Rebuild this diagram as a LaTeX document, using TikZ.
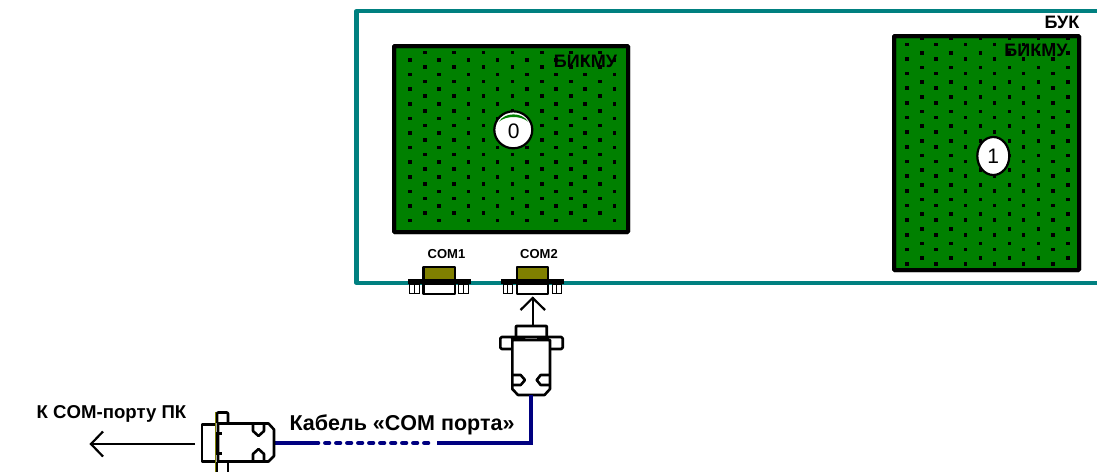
\documentclass[tikz,border=0pt]{standalone}
\usepackage{fontspec}
\setmainfont{Liberation Sans}
\usetikzlibrary{shapes.geometric}
\definecolor{frameteal}{HTML}{008080}
\definecolor{boardgreen}{HTML}{008000}
\definecolor{portolive}{HTML}{808000}
\definecolor{cablenavy}{HTML}{000080}
\tikzset{
  x=1pt,y=-1pt,
  frameline/.style={draw=frameteal,line width=4.2pt,line join=round},
  board/.style={draw=black,line width=4pt,fill=boardgreen,rounded corners=1pt},
  boardedge/.style={draw=black,line width=4pt,rounded corners=1pt},
  dotmark/.style={fill=black},
  idcell/.style={ellipse,draw=black,line width=2.2pt,fill=white,inner sep=0pt,font=\fontsize{20}{20}\selectfont},
  boardcap/.style={font=\bfseries\fontsize{18}{18}\selectfont,inner sep=0pt,text=black},
  portcap/.style={font=\bfseries\fontsize{13}{13}\selectfont,inner sep=0pt},
  bigcap/.style={font=\bfseries\fontsize{21.5}{21.5}\selectfont,inner sep=0pt},
  pc/.style={draw=black,line width=2.2pt,line join=round},
  pcthick/.style={draw=black,line width=2.6pt,line join=round},
  cable/.style={draw=cablenavy,line width=3.6pt,line join=miter},
  cabledash/.style={draw=cablenavy,line width=4.6pt,line cap=round,dash pattern=on 3.6pt off 7.4pt},
  flow/.style={draw=black,line width=2.2pt},
}
\newcommand{\comport}[1]{%
  \begin{scope}[xshift=#1]
    \draw[pc,fill=portolive] (516.7,280) -- (516.7,267) -- (548.3,267) -- (548.3,280) -- cycle;
    \draw[pc,fill=white] (516.7,284) -- (516.7,294) -- (548.3,294) -- (548.3,284) -- cycle;
    \draw[draw=black,line width=.8pt,fill=white] (503,284) rectangle (512.7,293);
    \draw[draw=black,line width=.8pt] (507.8,284) -- (507.8,293);
    \draw[draw=black,line width=.8pt,fill=white] (552,284) rectangle (561.7,293);
    \draw[draw=black,line width=.8pt] (556.8,284) -- (556.8,293);
    \fill[black] (501,279) rectangle (564,284.3);
  \end{scope}}
\begin{document}
\begin{tikzpicture}
\useasboundingbox (0,0) rectangle (1097,472);
\fill[white] (0,0) rectangle (1097,472);
% enclosure
\draw[frameline] (1097,11) -- (356.5,11) -- (356.5,283) -- (1097,283);
\node[boardcap,anchor=center] (buk) at (1062,22.5) {БУК};
% left board
\path[board] (394,46) rectangle (628,232);
\foreach \i in {0,...,7}{
  \foreach \j in {0,...,11}{
    \pgfmathsetmacro{\px}{410+29.2*\i}
    \pgfmathsetmacro{\py}{60+14.6*\j}
    \fill[dotmark] (\px-1.8,\py-1.8) rectangle (\px+1.8,\py+1.8);
    \pgfmathsetmacro{\qx}{425+29.2*\i}
    \pgfmathsetmacro{\qy}{52.3+14.6*\j}
    \ifdim\qx pt<620pt \fill[dotmark] (\qx-1.8,\qy-1.8) rectangle (\qx+1.8,\qy+1.8);\fi
  }
}
\path[boardedge] (394,46) rectangle (628,232);
\node[boardcap] (bikmuA) at (585.5,61.5) {БИКМУ};
\node[idcell,minimum width=38pt,minimum height=37pt] (cell0) at (513.3,129.8) {};
\fill[boardgreen] (499,121.5) .. controls (505,112) and (522,112) .. (528,121.5) .. controls (520,115.5) and (507,115.5) .. (499,121.5);
\node[inner sep=0pt,font=\fontsize{21}{21}\selectfont] (num0) at (513.8,131.5) {0};
% right board
\path[board] (894,36) rectangle (1079,270);
\foreach \i in {0,...,5}{
  \foreach \j in {0,...,15}{
    \pgfmathsetmacro{\px}{907+29.15*\i}
    \pgfmathsetmacro{\py}{44.3+14.65*\j}
    \fill[dotmark] (\px-1.8,\py-1.8) rectangle (\px+1.8,\py+1.8);
    \pgfmathsetmacro{\qx}{922+29.15*\i}
    \pgfmathsetmacro{\qy}{38.3+14.65*\j}
    \fill[dotmark] (\qx-1.8,\qy-1.8) rectangle (\qx+1.8,\qy+1.8);
  }
}
\path[boardedge] (894,36) rectangle (1079,270);
\node[boardcap] (bikmuB) at (1036,50) {БИКМУ};
\node[idcell,minimum width=32pt,minimum height=38pt] (cell1) at (993.3,156) {};
\node[inner sep=0pt,font=\fontsize{21}{21}\selectfont] (num1) at (993.3,156.5) {1};
% ports
\comport{-93.3pt}
\comport{0pt}
\node[portcap] (com1) at (446.5,254.5) {COM1};
\node[portcap] (com2) at (539,254.5) {COM2};
% vertical plug
\coordinate (arrowtop) at (532.7,297);
\coordinate (plugtop) at (532.7,326);
\draw[pcthick,fill=white,rounded corners=.5pt] (516,336) -- (516,326) -- (546.7,326) -- (546.7,336);
\draw[flow] (plugtop) -- (arrowtop);
\draw[flow,line join=miter] (520.5,310) -- (532.7,298) -- (545,310);
\draw[pcthick,fill=white,rounded corners=1.5pt] (512,337) -- (500.3,337) -- (500.3,349) -- (562.7,349) -- (562.7,337) -- (550,337) -- cycle;
\draw[pcthick,fill=white] (512.3,340) -- (512.3,389) -- (518,395) -- (544.5,395) -- (550,389) -- (550,340) -- cycle;
\draw[pcthick] (513,340) -- (512,338.5) -- (524,338.5) -- (524,340);
\draw[pcthick] (538.5,340) -- (538.5,338.5) -- (549,338.5);
\draw[pcthick] (512.3,375) -- (520.7,375) -- (525,380) -- (520.7,385) -- (512.3,385);
\draw[pcthick] (550,375) -- (540.7,375) -- (536.7,380) -- (540.7,385) -- (550,385);
% cable
\coordinate (cabV) at (531,395);
\coordinate (cabC) at (531,443);
\coordinate (cabR) at (437,443);
\coordinate (dashR) at (428,443);
\coordinate (dashL) at (318,443);
\coordinate (cabL) at (274,443);
\draw[cable] (cabV) -- (cabC) -- (cabR);
\draw[cable] (dashL) -- (cabL);
\draw[cabledash] (dashR) -- (dashL);
\node[bigcap] (cabtext) at (402,424.5) {Кабель «COM порта»};
% horizontal plug
\coordinate (arrowleft) at (91,444);
\coordinate (plugleft) at (195,444);
\draw[flow] (plugleft) -- (arrowleft);
\draw[flow,line join=miter] (103,431.5) -- (91,444) -- (103,456.5);
\draw[pcthick,fill=white] (215,424.5) -- (202,424.5) -- (202,461.5) -- (215,461.5);
\draw[pcthick,rounded corners=1pt] (217,423) -- (217,412.5) -- (228,412.5) -- (228,423);
\draw[pcthick] (228,462) -- (228,472);
\draw[pcthick] (217,462) -- (217,472);
\draw[pcthick,fill=white] (218,423.5) -- (268.5,423.5) -- (274,429.5) -- (274,456) -- (268.5,461.5) -- (218,461.5) -- cycle;
\fill[black] (215,433) rectangle (219,452);
\fill[black] (215,452) rectangle (222,455);
\fill[black] (215,432) rectangle (222,435);
\draw[pcthick] (253,423.5) -- (253,431) -- (258.5,436) -- (264,431) -- (264,423.5);
\draw[pcthick] (253,461.5) -- (253,454) -- (258.5,449) -- (264,454) -- (264,461.5);
\draw[draw=portolive,line width=1pt] (215,412) -- (215,472);
\node[bigcap,font=\bfseries\fontsize{18.6}{18.6}\selectfont] (pctext) at (111.5,414) {К COM-порту ПК};
\end{tikzpicture}
\end{document}
